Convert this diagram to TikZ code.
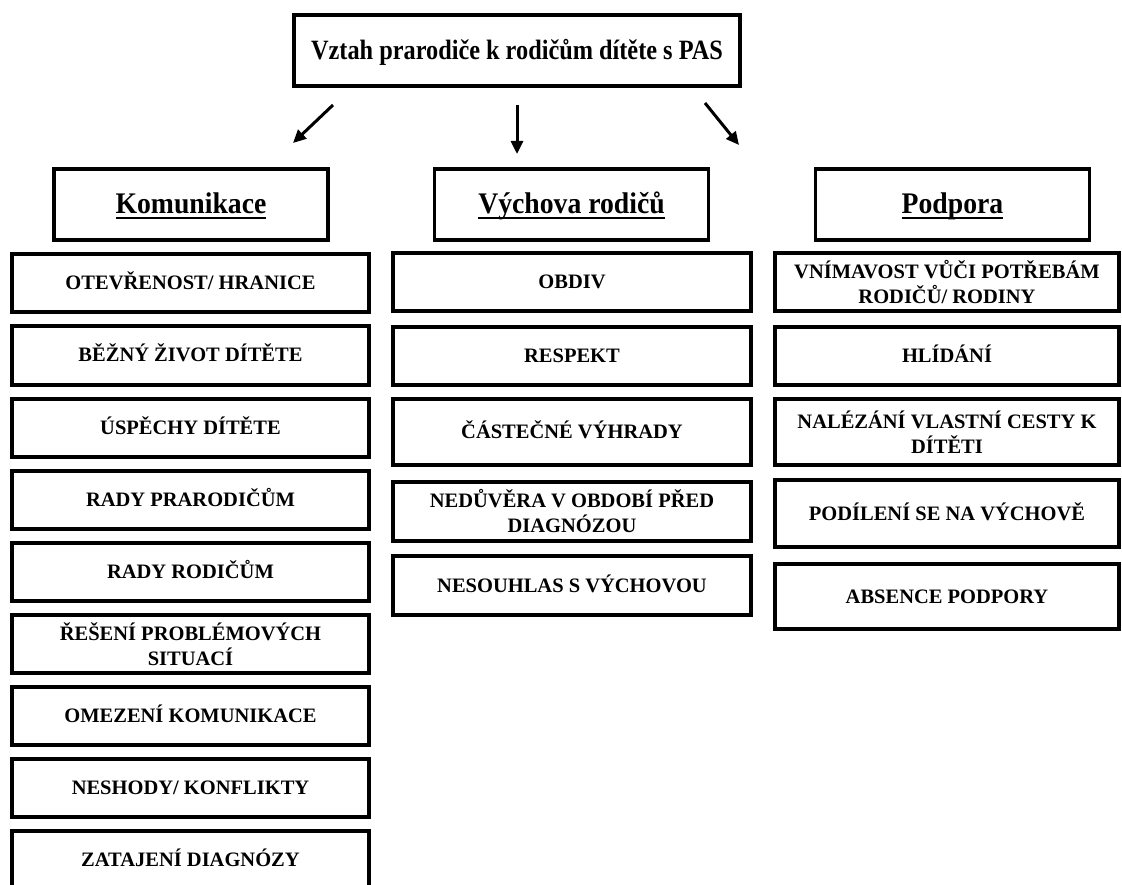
\documentclass[tikz,border=0pt]{standalone}
\usepackage{fontspec}
\setmainfont{Liberation Serif}
\usetikzlibrary{arrows.meta}

% underlined heading text with a thick rule below the baseline
\newcommand{\headul}[1]{\setbox0\hbox{#1}\leavevmode\rlap{\rule[-5pt]{\wd0}{1.8pt}}\box0}

\tikzset{
  titlebox/.style={draw=black, line width=4pt, fill=white, inner sep=0pt,
    minimum width=446pt, minimum height=71pt,
    text height=22pt, text depth=3pt,
    font=\bfseries\fontsize{24.3}{29}\selectfont},
  catbox/.style={draw=black, line width=3.6pt, fill=white, inner sep=0pt,
    minimum width=274pt, minimum height=71pt,
    text height=22pt, text depth=3pt,
    font=\bfseries\fontsize{27.7}{32}\selectfont},
  itembox/.style={draw=black, line width=4pt, fill=white, inner sep=0pt,
    align=center, minimum height=58pt,
    font=\bfseries\fontsize{20.5}{25}\selectfont},
  oneline/.style={text height=17pt, text depth=4pt},
  leftcol/.style={itembox, minimum width=357pt},
  midcol/.style={itembox, minimum width=358pt},
  rightcol/.style={itembox, minimum width=344pt},
  branch/.style={line width=3pt, -{Triangle[length=13pt,width=12pt]}}
}

\begin{document}
\begin{tikzpicture}[x=1pt, y=-1pt]
  \useasboundingbox[fill=white] (0,0) rectangle (1122,885);

  % root
  \node[titlebox] (root) at (517,50.5)
    {\scalebox{1}[1.15]{Vztah prarodiče k rodičům dítěte s PAS}};

  % branch arrows
  \coordinate (aLs) at (333,105);
  \coordinate (aLe) at (293,143);
  \coordinate (aMs) at (517,105);
  \coordinate (aMe) at (517,154);
  \coordinate (aRs) at (705,103);
  \coordinate (aRe) at (739,145);
  \draw[branch] (aLs) -- (aLe);
  \draw[branch] (aMs) -- (aMe);
  \draw[branch] (aRs) -- (aRe);

  % category headings
  \node[catbox] (kom) at (191,204.5) {\scalebox{1}[1.08]{\headul{Komunikace}}};
  \node[catbox] (vych) at (571.5,204.5) {\scalebox{1}[1.08]{\headul{Výchova rodičů}}};
  \node[catbox] (podp) at (952.5,204.5) {\scalebox{1}[1.08]{\headul{Podpora}}};

  % Komunikace
  \node[leftcol, oneline] (k1) at (190.5,283)   {OTEVŘENOST/ HRANICE};
  \node[leftcol, oneline] (k2) at (190.5,355.5) {BĚŽNÝ ŽIVOT DÍTĚTE};
  \node[leftcol, oneline] (k3) at (190.5,427.5) {ÚSPĚCHY DÍTĚTE};
  \node[leftcol, oneline] (k4) at (190.5,499.5) {RADY PRARODIČŮM};
  \node[leftcol, oneline] (k5) at (190.5,572)   {RADY RODIČŮM};
  \node[leftcol] (k6) at (190.5,644)   {ŘEŠENÍ PROBLÉMOVÝCH\\SITUACÍ};
  \node[leftcol, oneline] (k7) at (190.5,716)   {OMEZENÍ KOMUNIKACE};
  \node[leftcol, oneline] (k8) at (190.5,788)   {NESHODY/ KONFLIKTY};
  \node[leftcol, oneline] (k9) at (190.5,860)   {ZATAJENÍ DIAGNÓZY};

  % Výchova rodičů
  \node[midcol, oneline] (v1) at (572,282.5) {OBDIV};
  \node[midcol, oneline] (v2) at (572,356)   {RESPEKT};
  \node[midcol, oneline, minimum height=66pt] (v3) at (572,432)   {ČÁSTEČNÉ VÝHRADY};
  \node[midcol, minimum height=59pt] (v4) at (572,511.5) {NEDŮVĚRA V OBDOBÍ PŘED\\DIAGNÓZOU};
  \node[midcol, oneline, minimum height=59pt] (v5) at (572,585.5) {NESOUHLAS S VÝCHOVOU};

  % Podpora
  \node[rightcol] (p1) at (947,282.5) {VNÍMAVOST VŮČI POTŘEBÁM\\RODIČŮ/ RODINY};
  \node[rightcol, oneline] (p2) at (947,356)   {HLÍDÁNÍ};
  \node[rightcol, minimum height=66pt] (p3) at (947,432)   {NALÉZÁNÍ VLASTNÍ CESTY K\\DÍTĚTI};
  \node[rightcol, oneline, minimum height=67pt] (p4) at (947,513.5) {PODÍLENÍ SE NA VÝCHOVĚ};
  \node[rightcol, oneline, minimum height=65pt] (p5) at (947,596.5) {ABSENCE PODPORY};
\end{tikzpicture}
\end{document}
